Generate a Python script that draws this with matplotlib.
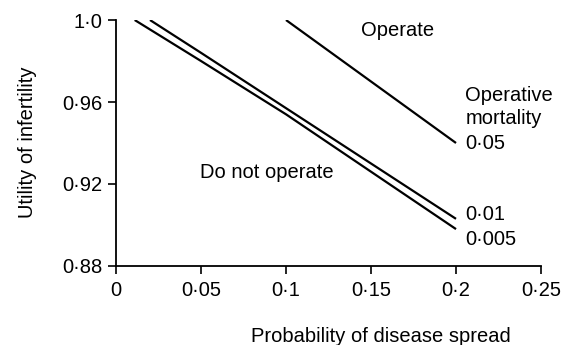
import numpy as np
import matplotlib
matplotlib.use("Agg")
from matplotlib import pyplot as plt

plt.rcParams['font.family'] = ['Liberation Sans', 'DejaVu Sans']

# operative mortality curves (probability of spread, utility of infertility)
p_005 = [0.1, 0.15, 0.2]
u_005 = [1.0, 0.970, 0.940]

p_001 = [0.02, 0.05, 0.1, 0.15, 0.2]
u_001 = [1.0, 0.984, 0.957, 0.930, 0.903]

p_0005 = [0.011, 0.05, 0.1, 0.15, 0.2]
u_0005 = [1.0, 0.980, 0.954, 0.926, 0.898]

xticks = [0, 0.05, 0.1, 0.15, 0.2, 0.25]
xlabels = ['0', '0·05', '0·1', '0·15', '0·2', '0·25']
yticks = [0.88, 0.92, 0.96, 1.0]
ylabels = ['0·88', '0·92', '0·96', '1·0']

fs = 14.5

fig = plt.figure(figsize=(5.73, 3.45), dpi=100)
ax = fig.add_axes([0.2024, 0.229, 0.7418, 0.713])

for p, u in [(p_005, u_005), (p_001, u_001), (p_0005, u_0005)]:
    ax.plot(p, u, color='black', lw=1.6, solid_capstyle='butt')

ax.set_xlim(0, 0.25)
ax.set_ylim(0.88, 1.0)
ax.set_xticks(xticks)
ax.set_xticklabels(xlabels)
ax.set_yticks(yticks)
ax.set_yticklabels(ylabels)
ax.tick_params(length=6, width=1.2, labelsize=fs)
ax.tick_params(axis='x', pad=5)
ax.tick_params(axis='y', pad=4)
for s in ['top', 'right']:
    ax.spines[s].set_visible(False)
for s in ['left', 'bottom']:
    ax.spines[s].set_linewidth(1.3)

ax.text(0.1655, 0.995, 'Operate', fontsize=fs, ha='center', va='center')
ax.text(0.0493, 0.9254, 'Do not operate', fontsize=fs, ha='left', va='center')
ax.text(0.2054, 0.9576, 'Operative\nmortality', fontsize=fs, ha='left', va='center',
        linespacing=1.25)
ax.text(0.2054, 0.940, '0·05', fontsize=fs, ha='left', va='center')
ax.text(0.2054, 0.905, '0·01', fontsize=fs, ha='left', va='center')
ax.text(0.2054, 0.893, '0·005', fontsize=fs, ha='left', va='center')

fig.text(381 / 573, 1 - 337 / 345, 'Probability of disease spread', fontsize=fs,
         ha='center', va='center')
fig.text(28 / 573, 1 - 142 / 345, 'Utility of infertility', fontsize=fs,
         ha='center', va='center', rotation=90)

fig.savefig('out.png', dpi=100)
